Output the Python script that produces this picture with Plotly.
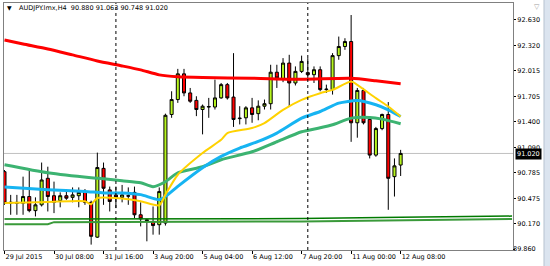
import plotly.graph_objects as go

# ---- data (AUDJPY H4) ----
bar_index = list(range(65))
opens = [90.80, 90.42, 90.43, 90.42, 90.50, 90.33, 90.40, 90.72, 90.51, 90.45,
         90.51, 90.49, 90.51, 90.56, 90.43, 90.01, 90.84, 90.58, 90.52, 90.49,
         90.51, 90.55, 90.28, 90.22, 90.19, 90.16, 90.18, 91.49, 91.67, 91.98,
         91.75, 91.66, 91.55, 91.58, 91.58, 91.69, 91.85, 91.70, 91.44, 91.45,
         91.57, 91.50, 91.59, 91.62, 92.00, 91.92, 92.11, 91.87, 92.01, 91.995,
         91.97, 92.03, 91.79, 91.79, 92.20, 92.31, 92.37, 91.39, 91.78, 91.43,
         91.00, 91.32, 91.49, 90.74, 90.880]
highs = [90.82, 90.52, 90.52, 90.74, 90.81, 90.49, 90.91, 90.86, 90.68, 90.55,
         90.58, 90.61, 90.61, 90.59, 90.45, 91.03, 90.91, 90.62, 90.62, 90.64,
         90.61, 90.62, 90.43, 90.23, 90.38, 90.61, 91.50, 91.77, 92.04, 92.04,
         91.81, 91.71, 91.61, 91.69, 91.91, 91.87, 91.87, 92.23, 91.59, 91.59,
         91.69, 91.66, 91.67, 92.09, 92.09, 92.17, 92.21, 92.07, 92.20, 92.17,
         92.07, 92.07, 91.85, 92.23, 92.43, 92.41, 92.69, 91.81, 91.81, 91.47,
         91.34, 91.50, 91.64, 90.96, 91.063]
lows = [90.40, 90.28, 90.28, 90.28, 90.31, 90.26, 90.38, 90.32, 90.30, 90.37,
        90.46, 90.43, 90.37, 90.40, 89.92, 90.00, 90.40, 90.32, 90.36, 90.43,
        90.40, 90.24, 90.14, 89.96, 90.04, 90.04, 90.15, 91.45, 91.63, 91.71,
        91.63, 91.47, 91.25, 91.45, 91.55, 91.68, 91.67, 91.34, 91.37, 91.37,
        91.39, 91.42, 91.55, 91.55, 91.81, 91.88, 91.59, 91.84, 91.99, 91.91,
        91.87, 91.77, 91.75, 91.73, 92.15, 92.27, 91.16, 91.21, 91.37, 90.96,
        90.98, 91.30, 90.34, 90.50, 90.748]
closes = [90.42, 90.43, 90.42, 90.50, 90.33, 90.40, 90.70, 90.50, 90.43, 90.51,
          90.48, 90.52, 90.55, 90.43, 90.02, 90.85, 90.60, 90.44, 90.49, 90.52,
          90.505, 90.28, 90.23, 90.21, 90.15, 90.56, 91.48, 91.67, 91.98, 91.75,
          91.65, 91.55, 91.59, 91.585, 91.69, 91.85, 91.69, 91.43, 91.445, 91.57,
          91.49, 91.59, 91.62, 92.00, 91.93, 92.11, 91.87, 92.01, 92.13, 91.97,
          92.03, 91.79, 91.795, 92.20, 92.31, 92.37, 91.39, 91.78, 91.39, 91.00,
          91.32, 91.49, 90.72, 90.87, 91.020]

# moving averages (bar index, price)
ma_red_x = [0, 3, 7, 11, 15, 19, 22, 25, 28, 32, 40, 48, 56, 60, 64]
ma_red_y = [92.389, 92.341, 92.281, 92.209, 92.136, 92.076, 92.028, 91.968, 91.944,
            91.935, 91.928, 91.914, 91.926, 91.896, 91.860]
ma_green_x = [0, 7, 14, 16, 19, 22, 24, 26, 28, 32, 35, 40, 44, 48, 51, 53, 56, 59, 61, 64]
ma_green_y = [90.884, 90.787, 90.727, 90.715, 90.691, 90.667, 90.619, 90.679, 90.787,
              90.860, 90.944, 91.040, 91.161, 91.281, 91.329, 91.366, 91.446, 91.454,
              91.434, 91.378]
ma_blue_x = [0, 7, 13, 16, 19, 22, 25, 26, 28, 32, 35, 38, 41, 44, 48, 51, 54, 57, 60, 62, 64]
ma_blue_y = [90.615, 90.583, 90.562, 90.543, 90.543, 90.523, 90.462, 90.502, 90.623,
             90.848, 90.984, 91.085, 91.165, 91.266, 91.446, 91.526, 91.627, 91.658,
             91.607, 91.546, 91.466]
ma_yellow_x = [0, 7, 13, 14, 15, 19, 22, 25, 26, 28, 32, 35, 36, 40, 42, 45, 48, 51,
               53, 56, 57, 60, 62, 64]
ma_yellow_y = [90.423, 90.435, 90.443, 90.408, 90.483, 90.475, 90.443, 90.394, 90.523,
               90.763, 91.025, 91.185, 91.266, 91.326, 91.386, 91.546, 91.667, 91.747,
               91.787, 91.887, 91.847, 91.687, 91.586, 91.466]
slow_a_x = [0, 48, 64, 82]
slow_a_y = [90.228, 90.234, 90.250, 90.264]
slow_b_x = [0, 7, 8, 48, 82]
slow_b_y = [90.167, 90.167, 90.191, 90.200, 90.228]

bid_price = 91.020
separators = [18, 49]
x_tick_index = [0, 8, 16, 24, 32, 40, 48, 56, 64]
x_tick_labels = ["29 Jul 2015", "30 Jul 08:00", "31 Jul 16:00", "3 Aug 20:00",
                 "5 Aug 04:00", "6 Aug 12:00", "7 Aug 20:00", "11 Aug 00:00",
                 "12 Aug 08:00"]
y_ticks = [92.630, 92.320, 92.015, 91.705, 91.400, 91.090, 90.785, 90.475, 90.170, 89.860]
title_text = "AUDJPY.lmx,H4  90.880 91.063 90.748 91.020"

FONT = "DejaVu Sans"
X_MIN, X_MAX = -0.08, 82.15
Y_MIN, Y_MAX = 89.855, 92.835

fig = go.Figure()

# slow MAs near the bottom
fig.add_trace(go.Scatter(x=slow_b_x, y=slow_b_y, mode="lines",
                         line=dict(color="#3a9a3a", width=2), hoverinfo="skip"))
fig.add_trace(go.Scatter(x=slow_a_x, y=slow_a_y, mode="lines",
                         line=dict(color="#007a00", width=1.5), hoverinfo="skip"))

for xs, ys, col, w in [(ma_red_x, ma_red_y, "#ff0000", 3),
                       (ma_green_x, ma_green_y, "#3cb371", 3),
                       (ma_blue_x, ma_blue_y, "#16b4f2", 3),
                       (ma_yellow_x, ma_yellow_y, "#ffd200", 2)]:
    fig.add_trace(go.Scatter(x=xs, y=ys, mode="lines",
                             line=dict(color=col, width=w, shape="spline", smoothing=0.6),
                             hoverinfo="skip"))

fig.add_trace(go.Candlestick(
    x=bar_index, open=opens, high=highs, low=lows, close=closes,
    increasing=dict(line=dict(color="#000000", width=1), fillcolor="#b6f51e"),
    decreasing=dict(line=dict(color="#000000", width=1), fillcolor="#ff0000"),
    hoverinfo="skip"))

# bottom price-scale label drawn as text just right of the axis
fig.add_trace(go.Scatter(x=[X_MAX], y=[y_ticks[-1]], mode="text",
                         text=["%.3f" % y_ticks[-1]], textposition="middle right",
                         textfont=dict(family=FONT, size=6.5, color="#000000"),
                         cliponaxis=False, hoverinfo="skip"))

shapes = [
    dict(type="line", xref="paper", x0=0, x1=1, yref="y", y0=bid_price, y1=bid_price,
         line=dict(color="#c0c0c0", width=1), layer="below"),
]
for s in separators:
    shapes.append(dict(type="line", xref="x", x0=s, x1=s, yref="paper", y0=0, y1=1,
                       line=dict(color="#000000", width=1, dash="dot")))
# window strip on the far right
shapes.append(dict(type="rect", xref="paper", x0=1.0609, x1=1.08, yref="paper",
                   y0=-0.1, y1=1.1, fillcolor="#dbe4ef", line=dict(width=0)))
shapes.append(dict(type="line", xref="paper", x0=1.0609, x1=1.0609, yref="paper",
                   y0=-0.1, y1=1.1, line=dict(color="#b8c2cf", width=1)))

bottom_frac = (y_ticks[-1] - Y_MIN) / (Y_MAX - Y_MIN)
shapes.append(dict(type="line", xref="paper", x0=1.0, x1=1.004, yref="paper",
                   y0=bottom_frac, y1=bottom_frac, line=dict(color="#000", width=1)))

annotations = [
    dict(text="▼", xref="paper", yref="paper", x=0.002, y=0.98, xanchor="left",
         yanchor="middle", showarrow=False, font=dict(family=FONT, size=6, color="#000")),
    dict(text=title_text, xref="paper", yref="paper", x=0.0255, y=0.98, xanchor="left",
         yanchor="middle", showarrow=False, font=dict(family=FONT, size=6.5, color="#000")),
    dict(text="%.3f" % bid_price, xref="paper", yref="y", x=1.0, xshift=2, y=bid_price,
         yshift=-1, xanchor="left", yanchor="middle", showarrow=False,
         bgcolor="#000000", borderpad=1,
         font=dict(family=FONT, size=6.5, color="#ffffff")),
    dict(text="▽", xref="paper", yref="paper", x=1.0466, y=0.985, xanchor="center",
         yanchor="middle", showarrow=False, font=dict(family=FONT, size=7, color="#a0a0a0")),
]

fig.update_layout(
    width=550, height=266,
    margin=dict(l=4, r=37, t=3, b=16, autoexpand=False),
    paper_bgcolor="#ffffff", plot_bgcolor="#ffffff",
    showlegend=False, hovermode=False,
    shapes=shapes, annotations=annotations,
    xaxis=dict(range=[X_MIN, X_MAX], rangeslider=dict(visible=False),
               tickvals=x_tick_index, ticktext=x_tick_labels,
               tickangle=0, automargin=False,
               ticks="outside", ticklen=3, tickcolor="#000", tickwidth=1,
               ticklabelposition="outside right",
               tickfont=dict(family=FONT, size=6.5, color="#000"),
               showgrid=False, zeroline=False, showline=True, mirror=True,
               linecolor="#808080", linewidth=1),
    yaxis=dict(range=[Y_MIN, Y_MAX], side="right", automargin=False,
               tickvals=y_ticks[:-1], ticktext=["%.3f" % v for v in y_ticks[:-1]],
               ticks="outside", ticklen=2, tickcolor="#000", tickwidth=1,
               tickfont=dict(family=FONT, size=6.5, color="#000"),
               showgrid=False, zeroline=False, showline=True, mirror=True,
               linecolor="#808080", linewidth=1),
)

fig.write_html("out.html")
